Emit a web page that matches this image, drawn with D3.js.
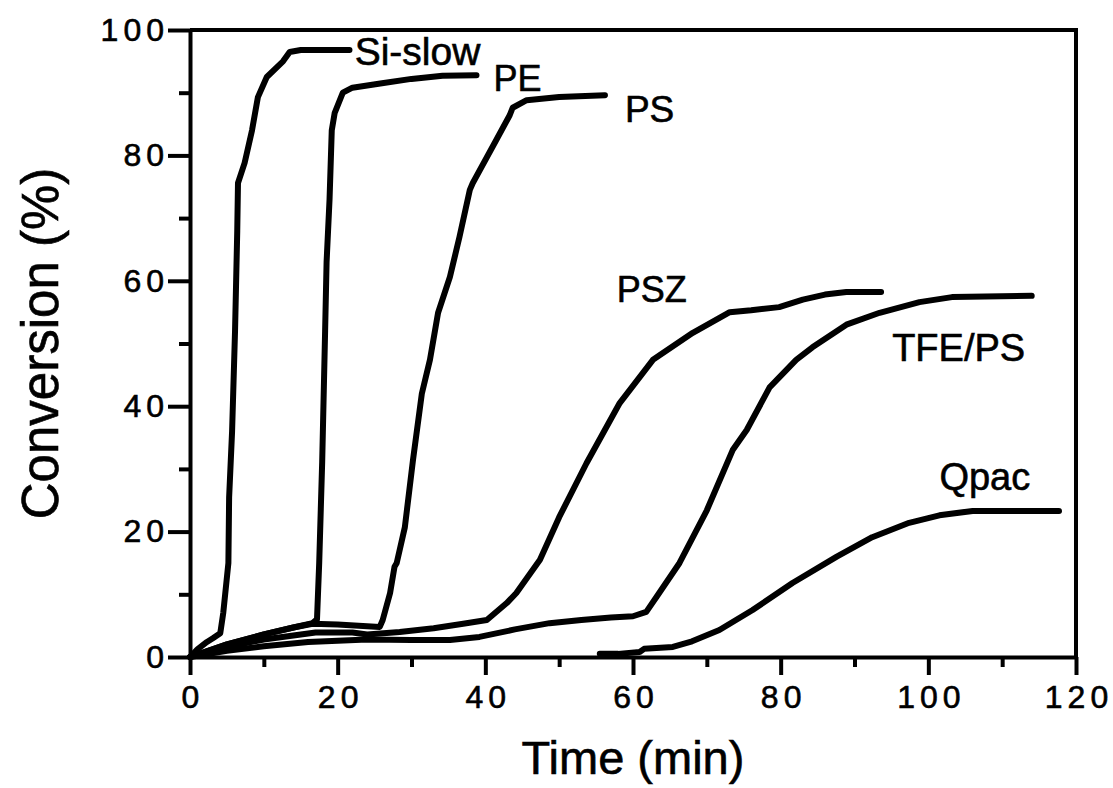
<!DOCTYPE html>
<html>
<head>
<meta charset="utf-8">
<script src="https://cdn.jsdelivr.net/npm/d3@7"></script>
<style>
  html, body { margin: 0; padding: 0; background: #fff; }
  text { font-family: "Liberation Sans", Arial, Helvetica, sans-serif; fill: #000; stroke: #000; stroke-width: 0.6px; }
</style>
</head>
<body>
<div id="chart"></div>
<script>
// time (min) and conversion (%)
const siSlowT = [0, 1, 2.3, 3.1, 4.1, 4.5, 5.2, 5.3, 5.7, 6.1, 6.4, 6.5, 7.4, 8.4, 9.2, 10.4, 12.6, 13.5, 15, 21.6];
const siSlowV = [0, 1.2, 2.4, 3, 3.8, 7, 15, 25.5, 36, 52, 68, 75.6, 78.8, 84, 89.3, 92.5, 95, 96.5, 96.8, 96.8];

const peT = [0, 5, 10, 14, 16.6, 17.2, 17.5, 17.9, 18.3, 18.5, 18.9, 19.2, 19.6, 20.7, 22, 26, 30, 34.2, 38.8];
const peV = [0, 2.0, 3.6, 4.7, 5.4, 6, 15, 31, 52, 63, 73, 84, 86.8, 90, 90.8, 91.5, 92.2, 92.7, 92.8];

const psT = [0, 5, 10, 14, 16.6, 20, 25.7, 26.1, 27.1, 27.7, 28, 29.1, 30.2, 31.4, 32.5, 33.6, 35.2, 36.5, 37.9, 38.3, 41.5, 43.3, 43.7, 45.6, 50, 56.2];
const psV = [0, 2.0, 3.6, 4.7, 5.3, 5.2, 4.8, 5.9, 10.2, 14.4, 15, 20.7, 31.4, 42, 47.4, 54.9, 60.6, 67, 74.5, 75.6, 82.5, 86.4, 87.6, 88.8, 89.3, 89.6];

const pszT = [0, 5, 10, 15, 17, 22, 24, 28.4, 33, 37, 40.2, 42.9, 44.2, 47.4, 50, 53.7, 58.2, 62.7, 68.1, 73.1, 76, 79.8, 83, 86, 88.9, 93.6];
const pszV = [0, 1.6, 2.8, 3.6, 3.9, 3.9, 3.6, 4, 4.6, 5.3, 5.9, 8.6, 10.2, 15.5, 22.3, 30.9, 40.5, 47.4, 51.7, 55, 55.3, 55.8, 57, 57.8, 58.2, 58.2];

const tfeT = [0, 5, 10, 16, 24, 30, 35.2, 39.2, 44, 48.7, 53, 57, 60, 61.8, 63.2, 66.3, 70, 73.5, 75.4, 78.5, 82.1, 84.3, 88.9, 93.4, 98.8, 103.2, 114];
const tfeV = [0, 1.0, 1.7, 2.4, 2.8, 2.7, 2.7, 3.2, 4.4, 5.4, 5.9, 6.3, 6.5, 7.2, 9.6, 15, 23.4, 33, 36.2, 43, 47.4, 49.4, 53, 54.9, 56.6, 57.4, 57.6];

const qpacT = [55.5, 58, 60.9, 61.5, 65.4, 68, 71.7, 76.2, 81.6, 87.6, 92.4, 97.4, 101.5, 106, 117.7];
const qpacV = [0.5, 0.5, 0.8, 1.3, 1.6, 2.5, 4.3, 7.5, 11.8, 16, 19.1, 21.4, 22.6, 23.3, 23.3];

const seriesNames = ["Si-slow", "PE", "PS", "PSZ", "TFE/PS", "Qpac"];
const seriesT = [siSlowT, peT, psT, pszT, tfeT, qpacT];
const seriesV = [siSlowV, peV, psV, pszV, tfeV, qpacV];

// where each curve name sits, in data units (time, conversion)
const labelT = [22.3, 41.1, 58.9, 57.8, 95.1, 101.5];
const labelV = [94.4, 90.3, 85.3, 56.6, 47.2, 26.6];
const labelSize = [39, 36, 37, 36, 38, 38];

const xMajor = [0, 20, 40, 60, 80, 100, 120];
const xMinor = [10, 30, 50, 70, 90, 110];
const yMajor = [0, 20, 40, 60, 80, 100];
const yMinor = [10, 30, 50, 70, 90];

const width = 1113;
const height = 788;

const svg = d3.select("#chart").append("svg")
  .attr("width", width)
  .attr("height", height);

const xScale = d3.scaleLinear().domain([0, 120]).range([190, 1076]);
const yScale = d3.scaleLinear().domain([0, 100]).range([657, 30]);

// frame (top + right)
svg.append("path")
  .attr("d", `M${xScale(0)},${yScale(100)}H${xScale(120)}V${yScale(0)}`)
  .attr("fill", "none")
  .attr("stroke", "#000")
  .attr("stroke-width", 4);

// minor ticks
svg.append("g")
  .attr("transform", `translate(0, ${yScale(0)})`)
  .call(d3.axisBottom(xScale).tickValues(xMinor).tickSize(10).tickSizeOuter(0).tickFormat(""))
  .call(g => g.select(".domain").remove())
  .call(g => g.selectAll("line").attr("stroke-width", 4));

svg.append("g")
  .attr("transform", `translate(${xScale(0)}, 0)`)
  .call(d3.axisLeft(yScale).tickValues(yMinor).tickSize(11).tickSizeOuter(0).tickFormat(""))
  .call(g => g.select(".domain").remove())
  .call(g => g.selectAll("line").attr("stroke-width", 4));

// major ticks + labels
const xAxis = svg.append("g")
  .attr("transform", `translate(0, ${yScale(0)})`)
  .call(d3.axisBottom(xScale).tickValues(xMajor).tickSize(18).tickSizeOuter(0).tickPadding(10));

const yAxis = svg.append("g")
  .attr("transform", `translate(${xScale(0)}, 0)`)
  .call(d3.axisLeft(yScale).tickValues(yMajor).tickSize(22).tickSizeOuter(0).tickPadding(4));

[xAxis, yAxis].forEach(ax => {
  ax.select(".domain").attr("stroke-width", 4);
  ax.selectAll("line").attr("stroke-width", 4);
  ax.selectAll("text")
    .attr("font-size", 32)
    .attr("font-family", "\"Liberation Sans\", Arial, sans-serif")
    .attr("fill", "#000")
    .style("letter-spacing", "5px");
});
xAxis.selectAll("text").attr("dx", 2.5);
yAxis.selectAll("text").attr("dx", 5);

// curves
const line = d3.line()
  .x(d => xScale(d[0]))
  .y(d => yScale(d[1]));

seriesNames.forEach((name, i) => {
  const pts = seriesT[i].map((t, j) => [t, seriesV[i][j]]);
  svg.append("path")
    .datum(pts)
    .attr("fill", "none")
    .attr("stroke", "#000")
    .attr("stroke-width", 6)
    .attr("stroke-linejoin", "round")
    .attr("stroke-linecap", "round")
    .attr("d", line);

  svg.append("text")
    .attr("x", xScale(labelT[i]))
    .attr("y", yScale(labelV[i]))
    .attr("font-size", labelSize[i])
    .text(name);
});

// axis titles
svg.append("text")
  .attr("x", (xScale(0) + xScale(120)) / 2)
  .attr("y", 774)
  .attr("text-anchor", "middle")
  .attr("font-size", 47)
  .text("Time (min)");

svg.append("text")
  .attr("transform", `translate(58, ${(yScale(0) + yScale(100)) / 2}) rotate(-90)`)
  .attr("text-anchor", "middle")
  .attr("font-size", 51)
  .text("Conversion (%)");
</script>
</body>
</html>
